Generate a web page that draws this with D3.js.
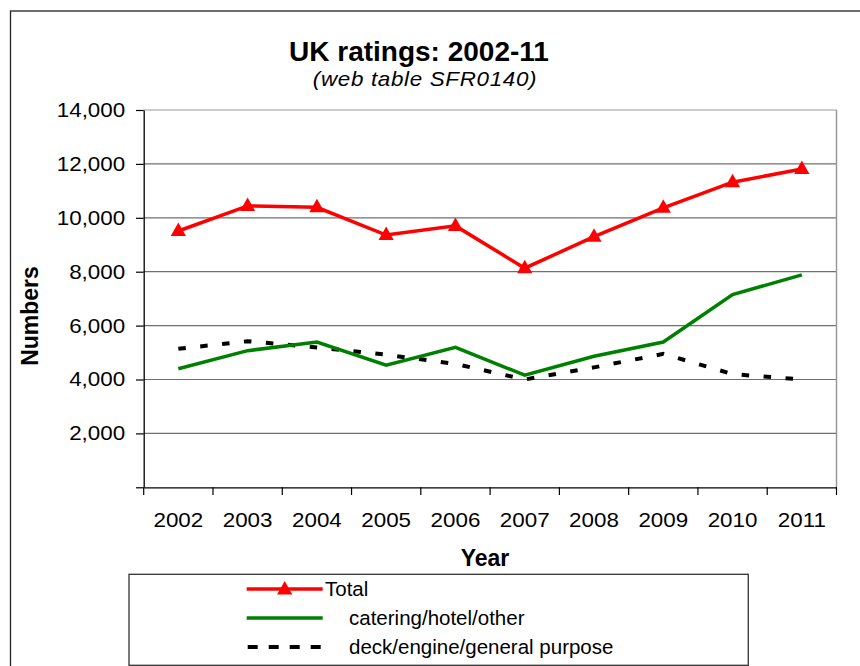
<!DOCTYPE html>
<html>
<head>
<meta charset="utf-8">
<script src="https://cdn.jsdelivr.net/npm/d3@7"></script>
<style>
  body { margin: 0; background: #fff; }
  text { font-family: "Liberation Sans", Arial, sans-serif; fill: #000; }
</style>
</head>
<body>
<div id="chartContainer"></div>
<script>
var years = ["2002", "2003", "2004", "2005", "2006", "2007", "2008", "2009", "2010", "2011"];
var total = [9510, 10440, 10390, 9360, 9700, 8130, 9300, 10370, 11320, 11810];
var catering = [4400, 5070, 5390, 4530, 5190, 4160, 4860, 5390, 7150, 7880];
var deck = [5140, 5420, 5190, 4920, 4580, 4000, 4450, 4950, 4200, 4000];
var yTicks = [0, 2000, 4000, 6000, 8000, 10000, 12000, 14000];
var seriesNames = ["Total", "catering/hotel/other", "deck/engine/general purpose"];

var W = 860, H = 666;
var plot = {left: 143.7, right: 836.5, top: 110, bottom: 487.3};

var svg = d3.select("#chartContainer")
    .append("svg")
    .attr("width", W)
    .attr("height", H);

//outer frame, runs off the right and bottom edge
svg.append("rect")
    .attr("x", 10.5).attr("y", 11)
    .attr("width", W + 20).attr("height", H + 20)
    .attr("fill", "none")
    .attr("stroke", "#222")
    .attr("stroke-width", 1.3);

var x = d3.scaleBand().domain(years).range([plot.left, plot.right]);
var y = d3.scaleLinear().domain([0, 14000]).range([plot.bottom, plot.top]);

//gridlines
svg.append("g")
    .selectAll("line")
    .data(yTicks.filter(function(d) { return d > 0; }))
    .enter()
    .append("line")
    .attr("x1", plot.left).attr("x2", plot.right)
    .attr("y1", function(d) { return y(d); })
    .attr("y2", function(d) { return y(d); })
    .attr("stroke", function(d) { return d === 14000 ? "#999" : "#707070"; })
    .attr("stroke-width", 1.2);

//right border of plot area
svg.append("line")
    .attr("x1", plot.right).attr("x2", plot.right)
    .attr("y1", plot.top).attr("y2", plot.bottom)
    .attr("stroke", "#999").attr("stroke-width", 1.5);

//axes
var yAxis = d3.axisLeft(y)
    .tickValues(yTicks)
    .tickSize(7.7)
    .tickSizeOuter(0)
    .tickPadding(0)
    .tickFormat(function(d) { return d === 0 ? "" : d3.format(",")(d); });

var xAxis = d3.axisBottom(x)
    .tickSize(0)
    .tickSizeOuter(0)
    .tickPadding(26);

var gy = svg.append("g")
    .attr("transform", "translate(" + plot.left + ",0)")
    .call(yAxis);
gy.select(".domain").attr("stroke", "#000").attr("stroke-width", 1.3);
gy.selectAll(".tick line").attr("stroke", "#000").attr("stroke-width", 1.2);
//source labels are drawn a little wide
gy.selectAll(".tick text")
    .attr("x", null)
    .attr("transform", "translate(-18.5,0) scale(1.12,1)")
    .attr("font-size", 20)
    .attr("font-family", "Liberation Sans, Arial, sans-serif")
    .attr("fill", "#000");

var gx = svg.append("g")
    .attr("transform", "translate(0," + plot.bottom + ")")
    .call(xAxis);
gx.select(".domain").attr("stroke", "#000").attr("stroke-width", 1.3);
gx.selectAll(".tick text")
    .attr("transform", "scale(1.12,1)")
    .attr("font-size", 20)
    .attr("font-family", "Liberation Sans, Arial, sans-serif")
    .attr("fill", "#000");

//x tick marks sit on the band edges
svg.append("g")
    .selectAll("line")
    .data(years.concat(["end"]))
    .enter()
    .append("line")
    .attr("x1", function(d, i) { return plot.left + i * x.bandwidth(); })
    .attr("x2", function(d, i) { return plot.left + i * x.bandwidth(); })
    .attr("y1", plot.bottom)
    .attr("y2", plot.bottom + 7.7)
    .attr("stroke", "#000")
    .attr("stroke-width", 1.2);

var cx = function(d, i) { return x(years[i]) + x.bandwidth() / 2; };

var line = d3.line()
    .x(function(d, i) { return cx(d, i); })
    .y(function(d) { return y(d); });

svg.append("path")
    .datum(deck)
    .attr("d", line)
    .attr("fill", "none")
    .attr("stroke", "#000")
    .attr("stroke-width", 4)
    .attr("stroke-dasharray", "7.5,14.5");

svg.append("path")
    .datum(catering)
    .attr("d", line)
    .attr("fill", "none")
    .attr("stroke", "#008000")
    .attr("stroke-width", 3.5);

svg.append("path")
    .datum(total)
    .attr("d", line)
    .attr("fill", "none")
    .attr("stroke", "#ff0000")
    .attr("stroke-width", 3.5);

//triangle marker
var tri = "M0,-8.5L7.6,5L-7.6,5Z";

svg.append("g")
    .selectAll("path")
    .data(total)
    .enter()
    .append("path")
    .attr("d", tri)
    .attr("fill", "#ff0000")
    .attr("transform", function(d, i) { return "translate(" + cx(d, i) + "," + y(d) + ")"; });

//titles
svg.append("text")
    .attr("x", 419).attr("y", 61)
    .attr("text-anchor", "middle")
    .attr("font-size", 28)
    .attr("font-weight", "bold")
    .text("UK ratings: 2002-11");

svg.append("text")
    .attr("x", 425).attr("y", 86)
    .attr("text-anchor", "middle")
    .attr("font-size", 20)
    .attr("font-style", "italic")
    .attr("letter-spacing", 0.6)
    .attr("transform", "translate(425,0) scale(1.12,1) translate(-425,0)")
    .text("(web table SFR0140)");

svg.append("text")
    .attr("x", 485).attr("y", 566)
    .attr("text-anchor", "middle")
    .attr("font-size", 23)
    .attr("font-weight", "bold")
    .text("Year");

svg.append("text")
    .attr("transform", "translate(38,316) rotate(-90)")
    .attr("text-anchor", "middle")
    .attr("font-size", 23)
    .attr("font-weight", "bold")
    .text("Numbers");

//legend
var legend = svg.append("g");
legend.append("rect")
    .attr("x", 129).attr("y", 574.3)
    .attr("width", 619.3).attr("height", 91)
    .attr("fill", "#fff")
    .attr("stroke", "#333")
    .attr("stroke-width", 1.3);

var rows = [589, 618, 647];
var lx1 = 246.7, lx2 = 322.7;

legend.append("line")
    .attr("x1", lx1).attr("x2", lx2).attr("y1", rows[0]).attr("y2", rows[0])
    .attr("stroke", "#ff0000").attr("stroke-width", 3.5);
legend.append("path")
    .attr("d", tri)
    .attr("fill", "#ff0000")
    .attr("transform", "translate(" + (lx1 + lx2) / 2 + "," + (rows[0] + 0.5) + ")");
legend.append("line")
    .attr("x1", lx1).attr("x2", lx2).attr("y1", rows[1]).attr("y2", rows[1])
    .attr("stroke", "#008000").attr("stroke-width", 3.5);
legend.append("line")
    .attr("x1", lx1 + 1).attr("x2", lx2).attr("y1", rows[2]).attr("y2", rows[2])
    .attr("stroke", "#000").attr("stroke-width", 4)
    .attr("stroke-dasharray", "10,11");

legend.selectAll("text")
    .data(seriesNames)
    .enter()
    .append("text")
    .attr("x", function(d, i) { return i === 0 ? 325 : 349; })
    .attr("y", function(d, i) { return rows[i] + 7; })
    .attr("font-size", 20.5)
    .text(function(d) { return d; });
</script>
</body>
</html>
